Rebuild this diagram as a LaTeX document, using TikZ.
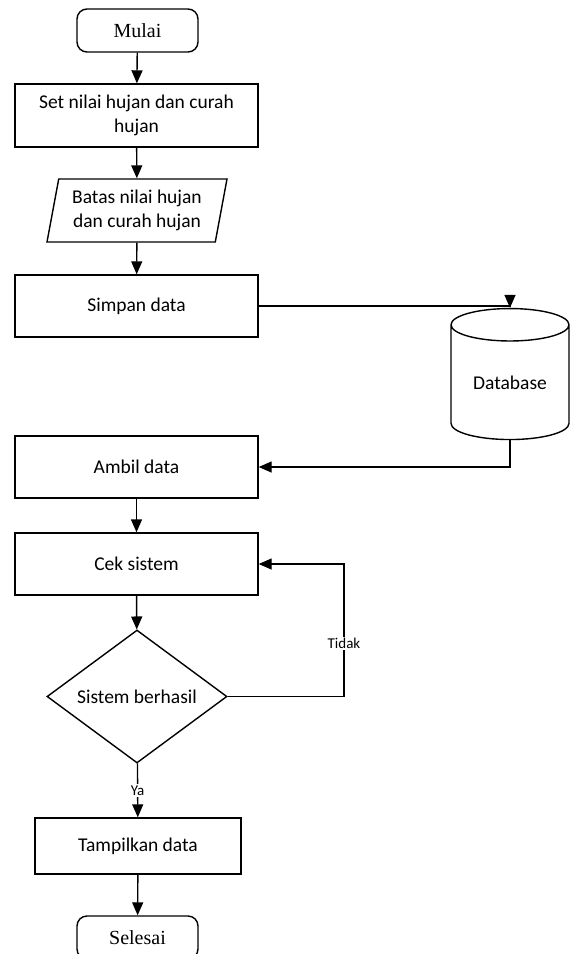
\documentclass[tikz,border=0pt]{standalone}
\usepackage{fontspec}
\setmainfont{Carlito}
\newfontfamily\termfont{Liberation Serif}
\usetikzlibrary{arrows.meta,shapes.geometric}

\tikzset{
  base/.style={draw, line width=1.4pt, inner sep=0pt, align=center, font=\fontsize{19.5}{24}\selectfont},
  term/.style={base, rounded corners=10pt, minimum width=121pt, minimum height=43pt, font=\termfont\fontsize{20}{24}\selectfont},
  proc/.style={base, rectangle, minimum width=243pt, minimum height=62pt},
  io/.style={base, trapezium, trapezium left angle=74, trapezium right angle=106, trapezium stretches body, minimum width=180pt, minimum height=63pt},
  dbase/.style={base, cylinder, shape border rotate=90, aspect=0.44, minimum width=118pt, minimum height=131pt},
  dec/.style={base, diamond, minimum width=180pt, minimum height=133pt},
  lbl/.style={fill=white, inner sep=1.5pt, font=\fontsize{15}{17}\selectfont},
  arr/.style={line width=1.4pt, -{Triangle[width=11pt,length=13pt]}},
  ln/.style={line width=1.4pt}
}

\begin{document}
\begin{tikzpicture}[x=1pt,y=1pt,yscale=-1,xscale=1]
\useasboundingbox (0,0) rectangle (570,954);

%Shape: Terminator
\node [term] (mulai) at (137.5,30.5) {Mulai};
%Shape: Rectangle
\node [proc, minimum height=63pt] (setn) at (136.5,115.5) {Set nilai hujan dan curah\\hujan};
%Shape: Parallelogram
\node [io] (batas) at (137,210.5) {Batas nilai hujan\\dan curah hujan};
%Shape: Rectangle
\node [proc] (simpan) at (136.5,306) {Simpan data};
%Shape: Can
\node [dbase] (db) at (510,382.5) {Database};
%Shape: Rectangle
\node [proc] (ambil) at (136.5,467) {Ambil data};
%Shape: Rectangle
\node [proc] (cek) at (136.5,564) {Cek sistem};
%Shape: Diamond
\node [dec, label={[font=\fontsize{19.5}{24}\selectfont]center:Sistem berhasil}] (cond) at (137,696.5) {};
%Shape: Rectangle
\node [proc, minimum width=206pt, minimum height=56pt] (tampil) at (138,846) {Tampilkan data};
%Shape: Terminator
\node [term] (selesai) at (137.5,937.5) {Selesai};

\coordinate (loop) at (344,0);

%Straight Lines
\draw [arr] (mulai) -- (setn);
\draw [arr] (setn) -- (batas);
\draw [arr] (batas) -- (simpan);
\draw [arr] (simpan.east) -| (db.north);
\draw [arr] (db.south) |- (ambil.east);
\draw [arr] (ambil) -- (cek);
\draw [arr] (cek) -- (cond);
\draw [arr] (cond.east) -| (loop |- cek.east) node [lbl, pos=0.7] {Tidak} -- (cek.east);
\draw [arr] (cond) -- (tampil) node [lbl, midway] {Ya};
\draw [arr] (tampil) -- (selesai);

\end{tikzpicture}
\end{document}
